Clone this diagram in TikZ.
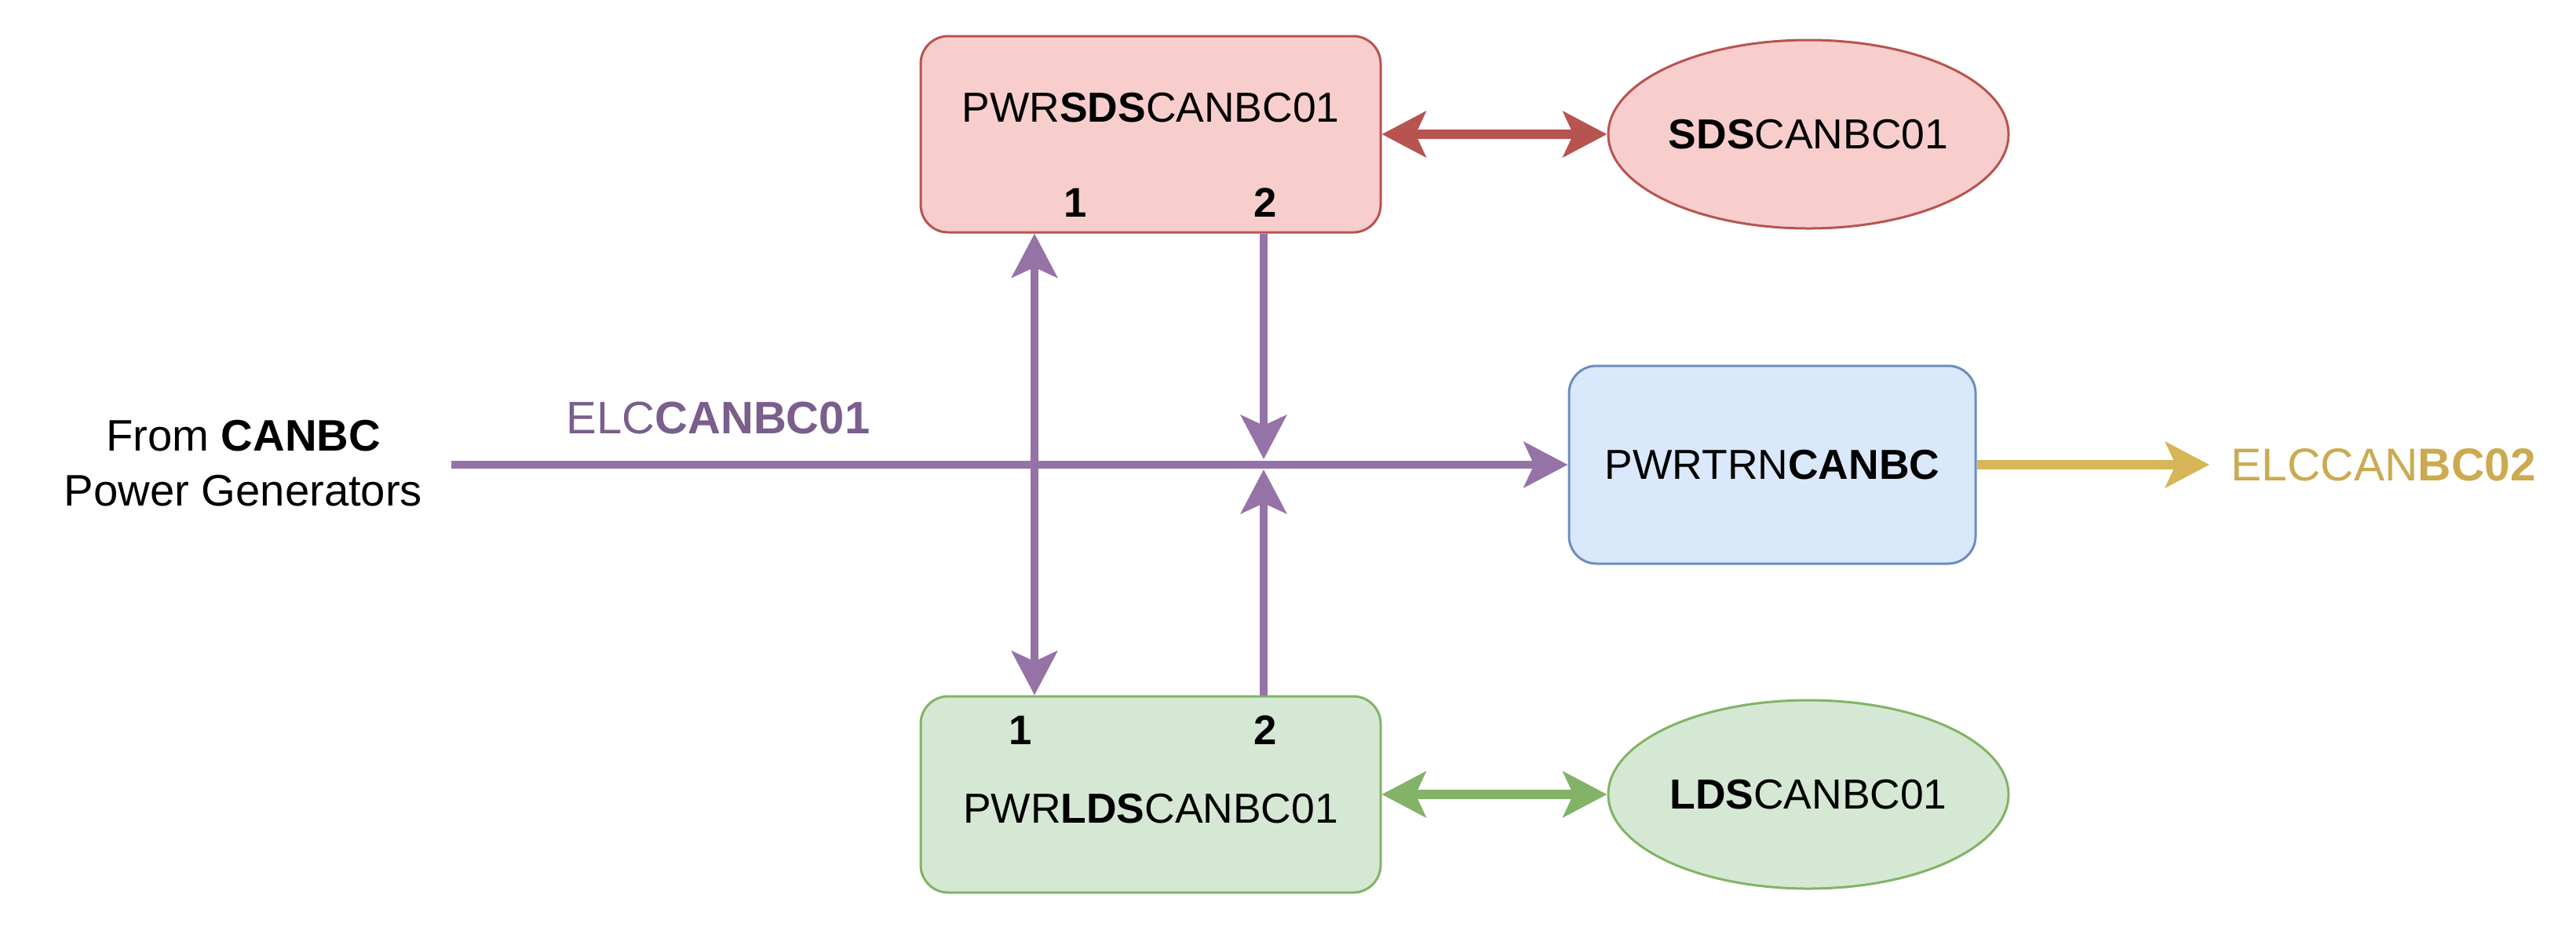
\documentclass[tikz,border=0pt]{standalone}
\usepackage{fontspec}
\setmainfont{Liberation Sans}
\usetikzlibrary{arrows.meta, positioning, calc, shapes.geometric}
\definecolor{sdsfill}{HTML}{F8CECC}
\definecolor{sdsline}{HTML}{B85450}
\definecolor{ldsfill}{HTML}{D5E8D4}
\definecolor{ldsline}{HTML}{82B366}
\definecolor{trnfill}{HTML}{DAE8FC}
\definecolor{trnline}{HTML}{6C8EBF}
\definecolor{elcpurple}{HTML}{9673A6}
\definecolor{elctext}{HTML}{7A5E8C}
\definecolor{elcgold}{HTML}{D6B656}
\definecolor{elcgoldtext}{HTML}{CCAA50}

\begin{document}
\begin{tikzpicture}[
        >={Stealth[length=0.56cm, width=0.58cm, inset=0.13cm]},
        every node/.style={font=\fontsize{16}{19.8}\selectfont, inner sep=0pt},
        boxtext/.style={font=\fontsize{15.2}{18}\selectfont},
        box/.style={draw, rectangle, rounded corners=0.35cm, line width=0.03cm, minimum width=5.86cm, minimum height=2.5cm, boxtext},
        oval/.style={draw, ellipse, line width=0.03cm, minimum width=5.1cm, minimum height=2.4cm},
        port/.style={font=\fontsize{15}{18}\selectfont\bfseries},
        bus/.style={line width=0.1cm, elcpurple}
    ]
        \useasboundingbox (0,0) rectangle (32.82,-11.85);

        % boxes
        \node[box, fill=sdsfill, draw=sdsline] (sds) at (14.66,-1.71) {};
        \node[boxtext] (sdsname) at (14.66,-1.37) {PWR\textbf{SDS}CANBC01};
        \node[port] (sds1) at (13.70,-2.58) {1};
        \node[port] (sds2) at (16.12,-2.58) {2};
        \node[oval, fill=sdsfill, draw=sdsline, label={[boxtext]center:\textbf{SDS}CANBC01}] (sdsdev) at (23.04,-1.71) {};

        \node[box, fill=trnfill, draw=trnline, minimum width=5.18cm, minimum height=2.52cm] (trn) at (22.58,-5.92) {PWRTRN\textbf{CANBC}};

        \node[box, fill=ldsfill, draw=ldsline] (lds) at (14.66,-10.12) {};
        \node[boxtext] (ldsname) at (14.66,-10.30) {PWR\textbf{LDS}CANBC01};
        \node[port] (lds1) at (13.00,-9.30) {1};
        \node[port] (lds2) at (16.12,-9.30) {2};
        \node[oval, fill=ldsfill, draw=ldsline, label={[boxtext]center:\textbf{LDS}CANBC01}] (ldsdev) at (23.04,-10.12) {};

        % labels
        \node[align=center] (src) at (3.10,-5.90) {From \textbf{CANBC}\\Power Generators};
        \node[font=\fontsize{16.5}{19}\selectfont, text=elctext] (elc01) at (9.15,-5.33) {ELC\textbf{CANBC01}};
        \node[font=\fontsize{16.7}{19}\selectfont, text=elcgoldtext, anchor=west] (elc02) at (28.42,-5.92) {ELCCAN\textbf{BC02}};

        \coordinate (busin) at (5.75,-5.92);
        \coordinate (tap1) at (13.18,-5.92);
        \coordinate (tap2) at (16.10,-5.92);

        % connectors
        \draw[->, bus] (busin) -- (trn.west);
        \draw[<->, bus] (tap1 |- sds.south) -- (tap1 |- lds.north);
        \draw[->, bus] (tap2 |- sds.south) -- ($(tap2)+(0,0.07)$);
        \draw[->, bus] (tap2 |- lds.north) -- ($(tap2)+(0,-0.06)$);
        \draw[<->, line width=0.12cm, sdsline] (sds.east) -- (sdsdev.west);
        \draw[<->, line width=0.12cm, ldsline] (lds.east) -- (ldsdev.west);
        \draw[->, line width=0.12cm, elcgold, shorten >=0.27cm] (trn.east) -- (elc02.west);
    \end{tikzpicture}
\end{document}
